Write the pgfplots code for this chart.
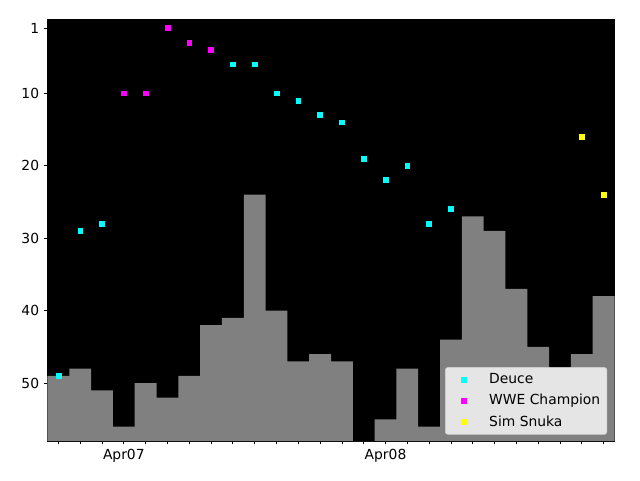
\documentclass[border=0pt]{standalone}
\usepackage{fontspec}
\setmainfont{DejaVu Sans}
\usepackage{pgfplots}
\pgfplotsset{compat=1.18}
\definecolor{barg}{HTML}{808080}
\definecolor{legbg}{HTML}{E5E5E5}
\definecolor{mcyan}{RGB}{0,255,255}
\definecolor{mmag}{RGB}{255,0,255}
\definecolor{myel}{RGB}{255,255,0}
\begin{document}
\fontsize{10.4}{12.5}\selectfont
\begin{tikzpicture}
\path[use as bounding box] (-35.625pt,-29.25pt) rectangle (444.375pt,330.75pt);
\begin{axis}[
  scale only axis, width=425.25pt, height=315.75pt,
  at={(0,0)}, anchor=south west,
  xmin=-0.5, xmax=25.5, ymin=-0.1, ymax=58,
  y dir=reverse,
  axis background/.style={fill=black},
  axis line style={black, line width=0.8pt},
  tick pos=left, tick align=outside,
  major tick length=2.6pt,
  tick style={black, line width=0.6pt},
  xtick={0,...,25},
  xticklabels={,,,Apr07,,,,,,,,,,,,Apr08,,,,,,,,,,},
  ytick={1,10,20,30,40,50},
  /pgf/number format/assume math mode=true,
  ticklabel style={font=\fontsize{10.4}{12.5}\selectfont},
  legend style={at={(rel axis cs:0.987,0.015)}, anchor=south east,
    fill=legbg, draw=legbg!80!gray, rounded corners=2pt,
    font=\fontsize{10.4}{12.5}\selectfont, row sep=2.6pt,
    inner xsep=3pt, inner ysep=2.5pt},
  legend cell align=left,
  legend image code/.code={\path[draw=none,fill=none] (0pt,0pt) -- (0.98cm,0pt); \draw[#1] plot coordinates {(0.38cm,0pt)};},
]
% step area (bars centered on ticks), closed to bottom
\addplot[fill=barg, draw=none, const plot mark left, forget plot] coordinates {
(-0.5,58) (-0.5,49) (0.5,48) (1.5,51) (2.5,56) (3.5,50) (4.5,52) (5.5,49)
(6.5,42) (7.5,41) (8.5,24) (9.5,40) (10.5,47) (11.5,46) (12.5,47)
(13.5,58) (14.5,55) (15.5,48) (16.5,56) (17.5,44) (18.5,27) (19.5,29)
(20.5,37) (21.5,45) (22.5,48) (23.5,46) (24.5,38) (25.5,38) (25.5,58) (-0.5,58)
} -- cycle;
\addplot[only marks, mark=square*, mark size=1.8pt, color=mcyan] coordinates {
(0,49) (1,29) (2,28) (8,6) (9,6) (10,10) (11,11) (12,13) (13,14)
(14,19) (15,22) (16,20) (17,28) (18,26)
};
\addlegendentry{Deuce}
\addplot[only marks, mark=square*, mark size=1.8pt, color=mmag] coordinates {
(3,10) (4,10) (5,1) (6,3) (7,4)
};
\addlegendentry{WWE Champion}
\addplot[only marks, mark=square*, mark size=1.8pt, color=myel] coordinates {
(24,16) (25,24)
};
\addlegendentry{Sim Snuka}
\end{axis}
\end{tikzpicture}
\end{document}
